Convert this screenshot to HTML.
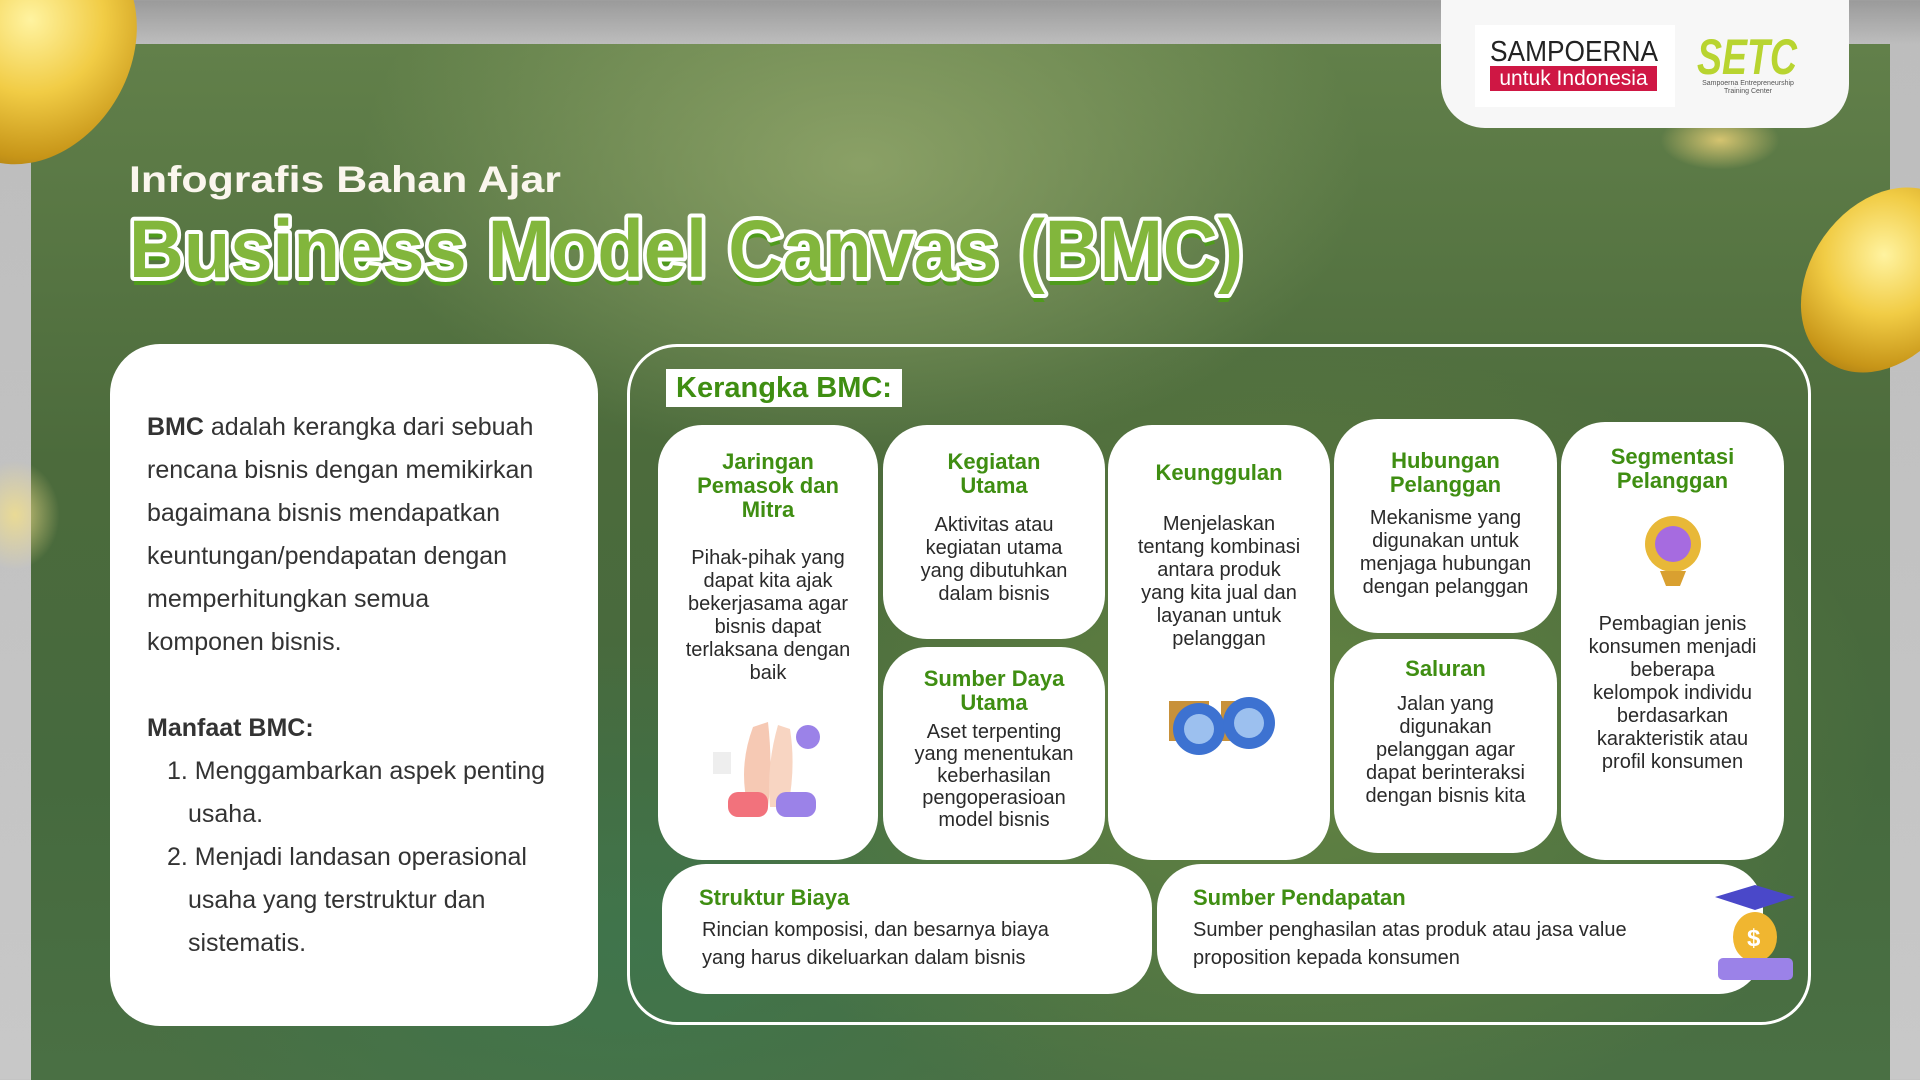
<!DOCTYPE html>
<html><head><meta charset="utf-8"><style>
*{margin:0;padding:0;box-sizing:border-box}
body{width:1920px;height:1080px;overflow:hidden;font-family:"Liberation Sans",sans-serif;background:linear-gradient(180deg,#9a9a9a 0,#bdbdbd 44px,#c8c8c8 100%);position:relative}
.panel{position:absolute;left:31px;top:44px;width:1859px;height:1036px;
background:radial-gradient(ellipse 500px 300px at 830px 120px,rgba(150,170,110,.8),transparent),
radial-gradient(ellipse 600px 400px at 1250px 700px,rgba(120,150,70,.6),transparent),
radial-gradient(ellipse 500px 300px at 600px 900px,rgba(60,120,80,.7),transparent),
linear-gradient(180deg,#62804a 0%,#4c6b3c 40%,#466a3e 70%,#4a7044 100%);}
.abs{position:absolute}
.card{position:absolute;background:#fff;border-radius:44px;text-align:center}
.h{color:#3f8e12;font-weight:bold;font-size:22px;line-height:24px}
.b{color:#2a2a2a;font-size:20px;line-height:23px;margin-top:10px}
.coin{position:absolute;border-radius:50%;background:radial-gradient(circle at 40% 40%,#fff3a0,#f1cc45 40%,#c79518 75%,#8a6210)}
</style></head><body>
<div class="panel"></div>
<div class="coin" style="left:-60px;top:-70px;width:190px;height:240px;transform:rotate(30deg)"></div>
<div class="coin" style="left:1810px;top:180px;width:150px;height:200px;transform:rotate(35deg)"></div>
<div class="abs" style="left:1660px;top:110px;width:120px;height:60px;border-radius:50%;background:radial-gradient(#f3d67a,transparent 70%);opacity:.8"></div>
<div class="abs" style="left:-30px;top:460px;width:90px;height:110px;border-radius:50%;background:radial-gradient(#f3e08a,transparent 70%);opacity:.8"></div>
<div class="abs" style="left:1441px;top:0;width:408px;height:128px;background:#f7f7f7;border-radius:0 0 44px 44px"></div>
<div class="abs" style="left:1475px;top:25px;width:200px;height:82px;background:#fff"></div>
<svg class="abs" style="left:1488px;top:30px" width="175" height="40"><text x="2" y="31" font-family="Liberation Sans" font-size="29" fill="#222" textLength="168" lengthAdjust="spacingAndGlyphs">SAMPOERNA</text></svg>
<div class="abs" style="left:1490px;top:66px;width:167px;height:25px;background:#cf1744;color:#fff;font-size:21px;line-height:25px;text-align:center">untuk Indonesia</div>
<svg class="abs" style="left:1694px;top:28px" width="112" height="52"><text x="3" y="46" font-family="Liberation Sans" font-size="50" font-weight="bold" font-style="italic" fill="#b8d430" textLength="100" lengthAdjust="spacingAndGlyphs">SETC</text></svg>
<div class="abs" style="left:1693px;top:80px;width:110px;font-size:7px;color:#555;text-align:center;line-height:8px">Sampoerna Entrepreneurship Training Center</div>
<svg class="abs" style="left:0;top:0" width="1300" height="310">
<text x="129" y="192" font-family="Liberation Sans" font-weight="bold" font-size="37" fill="#fbf6ee" textLength="432" lengthAdjust="spacingAndGlyphs">Infografis Bahan Ajar</text>
<text x="129" y="285" font-family="Liberation Sans" font-weight="bold" font-size="82" fill="#4f9b1c" textLength="1114" lengthAdjust="spacingAndGlyphs">Business Model Canvas (BMC)</text>
<text x="129" y="277" font-family="Liberation Sans" font-weight="bold" font-size="82" fill="#82b63c" stroke="#fff" stroke-width="8" paint-order="stroke" stroke-linejoin="round" textLength="1114" lengthAdjust="spacingAndGlyphs">Business Model Canvas (BMC)</text>
</svg>
<div class="abs" style="left:110px;top:344px;width:488px;height:682px;background:#fff;border-radius:50px;padding:62px 0 0 37px;font-size:25px;line-height:43px;color:#333">
<div><b>BMC</b> adalah kerangka dari sebuah<br>rencana bisnis dengan memikirkan<br>bagaimana bisnis mendapatkan<br>keuntungan/pendapatan dengan<br>memperhitungkan semua<br>komponen bisnis.</div>
<div style="margin-top:43px"><b>Manfaat BMC:</b></div>
<div style="padding-left:20px">1. Menggambarkan aspek penting<br><span style="padding-left:21px">usaha.</span><br>2. Menjadi landasan operasional<br><span style="padding-left:21px">usaha yang terstruktur dan</span><br><span style="padding-left:21px">sistematis.</span></div>
</div>
<div class="abs" style="left:627px;top:344px;width:1184px;height:681px;border:3px solid #fff;border-radius:50px"></div>
<div class="abs" style="left:666px;top:369px;width:236px;height:38px;background:#fff;color:#3f8e12;font-weight:bold;font-size:29px;line-height:38px;text-align:center">Kerangka BMC:</div>

<div class="card" style="left:658px;top:425px;width:220px;height:435px;padding-top:25px"><div class="h">Jaringan<br>Pemasok dan<br>Mitra</div><div class="b" style="margin-top:25px">Pihak-pihak yang<br>dapat kita ajak<br>bekerjasama agar<br>bisnis dapat<br>terlaksana dengan<br>baik</div>
<svg width="120" height="110" style="margin-top:22px"><path d="M40 100 Q30 60 45 20 L60 15 Q65 60 60 100Z" fill="#f6c9b4"/><path d="M62 100 Q58 60 70 18 L82 22 Q88 60 80 100Z" fill="#f8d5c2"/><rect x="20" y="85" width="40" height="25" rx="10" fill="#f2727c"/><rect x="68" y="85" width="40" height="25" rx="10" fill="#9b82e8"/><circle cx="100" cy="30" r="12" fill="#9b82e8"/><rect x="5" y="45" width="18" height="22" fill="#eee"/></svg></div>

<div class="card" style="left:883px;top:425px;width:222px;height:214px;padding-top:25px"><div class="h">Kegiatan<br>Utama</div><div class="b" style="margin-top:16px">Aktivitas atau<br>kegiatan utama<br>yang dibutuhkan<br>dalam bisnis</div></div>
<div class="card" style="left:883px;top:647px;width:222px;height:213px;padding-top:20px"><div class="h">Sumber Daya<br>Utama</div><div class="b" style="margin-top:6px;line-height:22px">Aset terpenting<br>yang menentukan<br>keberhasilan<br>pengoperasioan<br>model bisnis</div></div>

<div class="card" style="left:1108px;top:425px;width:222px;height:435px;padding-top:36px"><div class="h">Keunggulan</div><div class="b" style="margin-top:28px">Menjelaskan<br>tentang kombinasi<br>antara produk<br>yang kita jual dan<br>layanan untuk<br>pelanggan</div>
<svg width="140" height="70" style="margin-top:40px"><rect x="20" y="10" width="40" height="40" fill="#c8913a"/><rect x="72" y="10" width="40" height="40" fill="#c8913a"/><circle cx="50" cy="38" r="26" fill="#3d72d1"/><circle cx="50" cy="38" r="15" fill="#9cc0ef"/><circle cx="100" cy="32" r="26" fill="#3d72d1"/><circle cx="100" cy="32" r="15" fill="#9cc0ef"/></svg></div>

<div class="card" style="left:1334px;top:419px;width:223px;height:214px;padding-top:30px"><div class="h">Hubungan<br>Pelanggan</div><div class="b" style="margin-top:10px">Mekanisme yang<br>digunakan untuk<br>menjaga hubungan<br>dengan pelanggan</div></div>
<div class="card" style="left:1334px;top:639px;width:223px;height:214px;padding-top:18px"><div class="h">Saluran</div><div class="b" style="margin-top:12px">Jalan yang<br>digunakan<br>pelanggan agar<br>dapat berinteraksi<br>dengan bisnis kita</div></div>

<div class="card" style="left:1561px;top:422px;width:223px;height:438px;padding-top:23px"><div class="h">Segmentasi<br>Pelanggan</div>
<svg width="70" height="75" style="margin-top:18px"><circle cx="35" cy="33" r="28" fill="#e8b838"/><circle cx="35" cy="33" r="18" fill="#a66be0"/><path d="M22 60 L48 60 L42 75 L28 75Z" fill="#d9a030"/></svg>
<div class="b" style="margin-top:22px">Pembagian jenis<br>konsumen menjadi<br>beberapa<br>kelompok individu<br>berdasarkan<br>karakteristik atau<br>profil konsumen</div></div>

<div class="card" style="left:662px;top:864px;width:490px;height:130px;text-align:left;padding:22px 0 0 37px"><div class="h" style="font-size:22px">Struktur Biaya</div><div class="b" style="margin-top:6px;line-height:28px;font-size:20px;padding-left:3px">Rincian komposisi, dan besarnya biaya<br>yang harus dikeluarkan dalam bisnis</div></div>
<div class="card" style="left:1157px;top:864px;width:606px;height:130px;text-align:left;padding:22px 0 0 36px"><div class="h" style="font-size:22px">Sumber Pendapatan</div><div class="b" style="margin-top:6px;line-height:28px;font-size:20px">Sumber penghasilan atas produk atau jasa value<br>proposition kepada konsumen</div></div>
<svg class="abs" style="left:1710px;top:882px" width="95" height="100"><path d="M5 15 L45 3 L85 15 L45 28Z" fill="#4a48c9"/><ellipse cx="45" cy="55" rx="22" ry="25" fill="#f0b630"/><text x="37" y="64" font-size="24" font-weight="bold" fill="#fff" font-family="Liberation Sans">$</text><rect x="8" y="76" width="75" height="22" rx="5" fill="#9b82e8"/></svg>
</body></html>
